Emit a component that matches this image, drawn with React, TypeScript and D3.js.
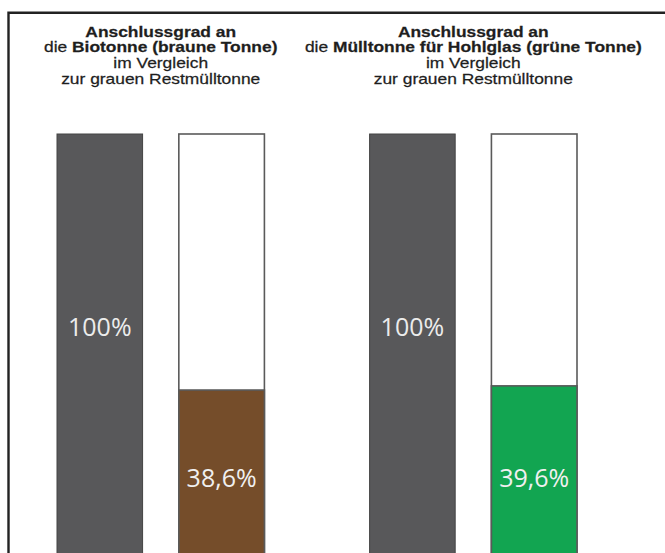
import React from "react";
import * as d3 from "d3";

const groups = ["Biotonne", "Hohlglas"];
const titleBold = ["Biotonne (braune Tonne)", "Mülltonne für Hohlglas (grüne Tonne)"];
const totalValues = [100, 100];
const shareValues = [38.6, 39.6];
const shareLabels = ["38,6%", "39,6%"];
const totalLabels = ["100%", "100%"];
const shareColors = ["#754d2a", "#12a551"];
const barKeys = ["total", "share"];

const W = 665;
const H = 553;

export default function App() {
  const outer = d3.scaleBand<number>().domain(groups.map((_, i) => i)).range([57, 577]).paddingInner(0.3365).paddingOuter(0);
  const inner = d3.scaleBand<string>().domain(barKeys).range([0, outer.bandwidth()]).paddingInner(0.2975).paddingOuter(0);
  const y = d3.scaleLinear().domain([0, 100]).range([551, 134]);
  const bw = inner.bandwidth();
  const sx = 1.16;
  const titleFont = "'Liberation Sans', Arial, sans-serif";

  return (
    <svg width={W} height={H} style={{ position: "fixed", left: 0, top: 0, background: "#fff", overflow: "hidden", display: "block" }}>
      <path d={`M8.5,${H + 10} V12.8 H${W + 10}`} fill="none" stroke="#222" strokeWidth={2.4} />
      {groups.map((g, i) => {
        const gx = outer(i)!;
        const cx = gx + outer.bandwidth() / 2;
        const xt = gx + inner("total")!;
        const xs = gx + inner("share")!;
        return (
          <g key={g}>
            <g transform={`translate(${cx},0) scale(${sx},1)`} fontFamily={titleFont} fontSize={15} fill="#1e1e1e" stroke="#1e1e1e" strokeWidth={0.25} textAnchor="middle">
              <text x={0} y={37} fontWeight="bold">Anschlussgrad an</text>
              <text x={0} y={52.5}>
                <tspan>die </tspan>
                <tspan fontWeight="bold">{titleBold[i]}</tspan>
              </text>
              <text x={0} y={68.5}>im Vergleich</text>
              <text x={0} y={84}>zur grauen Restmülltonne</text>
            </g>
            <rect x={xt} y={y(totalValues[i])} width={bw} height={y(0) - y(totalValues[i]) + 10} fill="#58585a" stroke="#444" strokeWidth={1} />
            <rect x={xs} y={y(100)} width={bw} height={y(0) - y(100) + 10} fill="#fff" stroke="#5a5a5a" strokeWidth={1.6} />
            <rect x={xs} y={y(shareValues[i])} width={bw} height={y(0) - y(shareValues[i]) + 10} fill={shareColors[i]} stroke="#5a5a5a" strokeWidth={1.6} />
            <text x={xt + bw / 2} y={y(51.6)} textAnchor="middle" fontFamily="'Open Sans', sans-serif" fontSize={25} fill="#ececec">{totalLabels[i]}</text>
            <text x={xs + bw / 2} y={y(15.3)} textAnchor="middle" fontFamily="'Open Sans', sans-serif" fontSize={25} fill="#f0f0f0">{shareLabels[i]}</text>
          </g>
        );
      })}
    </svg>
  );
}
